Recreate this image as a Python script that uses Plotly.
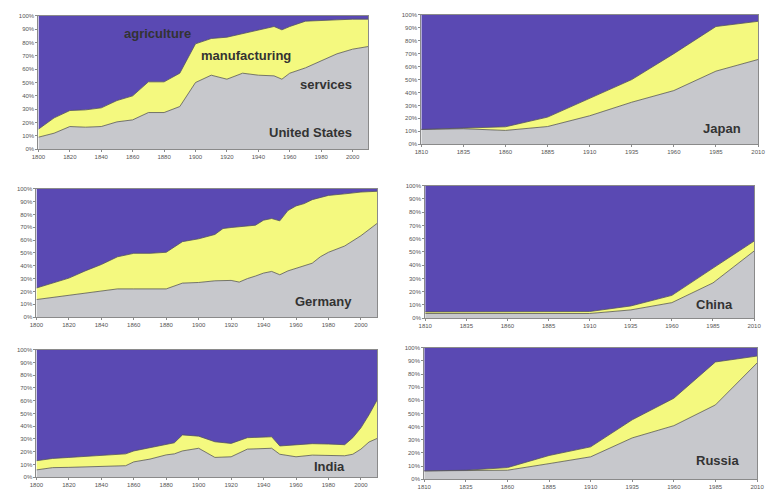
import plotly.graph_objects as go

# ---------------- data (percent of labour force) ----------------
us_years = [1800, 1810, 1820, 1830, 1840, 1850, 1860, 1870, 1880, 1890, 1900, 1910, 1920,
            1930, 1940, 1950, 1955, 1960, 1970, 1980, 1990, 2000, 2010]
us_services = [9, 12, 17, 16.5, 17, 20.5, 22, 27.5, 27.5, 32, 50, 55.5, 52.5,
               57, 55.5, 55, 52.5, 57, 61, 66.5, 71.5, 75, 77]
us_manufacturing = [6, 11.5, 12, 13, 14, 16, 18, 23, 23, 25, 29, 27.5, 31.5,
                    29.5, 33.5, 37, 37, 35, 35, 29.8, 25.5, 22.5, 20.5]

jp_years = [1810, 1835, 1860, 1885, 1910, 1935, 1960, 1985, 2010]
jp_services = [11.5, 12, 10.7, 13.7, 22, 32.5, 41.5, 56.5, 65.5]
jp_manufacturing = [0, 0.5, 2.8, 7.3, 13.6, 17.5, 28.5, 34.5, 29.5]

de_years = [1800, 1810, 1820, 1830, 1840, 1850, 1860, 1870, 1880, 1890, 1900, 1910, 1915,
            1920, 1925, 1930, 1935, 1940, 1945, 1950, 1955, 1960, 1965, 1970, 1975,
            1980, 1990, 2000, 2010]
de_services = [13.7, 15.3, 17, 18.5, 20, 22, 22, 22, 22, 26.5, 27, 28.3, 28.5,
               28.6, 27.3, 30, 32, 34.3, 35.6, 33, 36, 38, 39.4, 42, 47,
               50.5, 55.4, 63.4, 73]
de_manufacturing = [9, 11.2, 13.4, 17.5, 21, 25, 27.7, 27.7, 28.5, 32.3, 34, 36.1, 40.5,
                    41.2, 43, 41, 39.6, 41.2, 41.2, 42, 47, 48.6, 49, 49.5, 46,
                    44.3, 40.6, 34, 25]

cn_years = [1810, 1835, 1860, 1885, 1910, 1935, 1960, 1985, 2010]
cn_services = [3.5, 3.5, 3.5, 3.5, 3.5, 6.2, 11.7, 26.6, 50.7]
cn_manufacturing = [1.2, 1.2, 1.2, 1.2, 1.5, 3, 5.5, 11.2, 7.5]

in_years = [1800, 1810, 1820, 1830, 1840, 1850, 1855, 1860, 1870, 1880, 1885, 1890, 1900,
            1910, 1920, 1930, 1945, 1950, 1960, 1970, 1980, 1990, 1995, 2000, 2005, 2010]
in_services = [5.7, 7.5, 7.7, 8.2, 8.5, 9, 9, 12, 14.2, 17.5, 18.3, 20.6, 22.7,
               15.5, 16, 22, 22.7, 18, 16, 17.3, 17.3, 16.8, 18, 22, 27.6, 30.4]
in_manufacturing = [7.2, 7.2, 7.8, 8, 8.3, 8.8, 9.3, 8.6, 9, 8.3, 8.7, 12.6, 9.5,
                    12.3, 10.5, 9, 9, 6.5, 9.3, 9, 8.7, 8.7, 13, 16.7, 21.4, 30.2]

ru_years = [1810, 1835, 1860, 1885, 1910, 1935, 1960, 1985, 2010]
ru_services = [6.3, 6.3, 6.8, 11.8, 17, 31.4, 40.7, 56.5, 88.4]
ru_manufacturing = [0, 0.5, 2, 6.2, 7.6, 13.8, 20.9, 32.7, 5.3]

ticks_a = [1800, 1820, 1840, 1860, 1880, 1900, 1920, 1940, 1960, 1980, 2000]
ticks_b = [1810, 1835, 1860, 1885, 1910, 1935, 1960, 1985, 2010]
y_ticks = [0, 10, 20, 30, 40, 50, 60, 70, 80, 90, 100]

# ---------------- styling ----------------
W, H = 767, 495
C_SERV = "#c7c8cc"
C_MANU = "#f4f97f"
C_AGRI = "#5a49b3"
EDGE = "#555555"

panels = [
    # name, years, services, manufacturing, ticks, x range, px box (l, r, t, b), label pos
    ("United States", us_years, us_services, us_manufacturing, ticks_a, [1800, 2010], (32, 368, 13, 148), (309, 131)),
    ("Japan", jp_years, jp_services, jp_manufacturing, ticks_b, [1810, 2010], (422, 765, 12, 143), (728, 127)),
    ("Germany", de_years, de_services, de_manufacturing, ticks_a, [1800, 2010], (30, 377, 188, 318), (322, 302)),
    ("China", cn_years, cn_services, cn_manufacturing, ticks_b, [1810, 2010], (426, 761, 185, 319), (721, 305)),
    ("India", in_years, in_services, in_manufacturing, ticks_a, [1800, 2010], (30, 377, 351, 480), (329, 469)),
    ("Russia", ru_years, ru_services, ru_manufacturing, ticks_b, [1810, 2010], (425, 764, 349, 482), (724, 463)),
]

fig = go.Figure()
layout = {}
annotations = []

for i, (name, yrs, serv, manu, xt, xr, box, lab) in enumerate(panels):
    n = i + 1
    xa = "x" if n == 1 else f"x{n}"
    ya = "y" if n == 1 else f"y{n}"
    agri = [max(0.0, 100 - s - m) for s, m in zip(serv, manu)]
    sg = f"g{n}"
    for vals, col, nm in [(serv, C_SERV, "services"), (manu, C_MANU, "manufacturing"), (agri, C_AGRI, "agriculture")]:
        fig.add_trace(go.Scatter(
            x=yrs, y=vals, xaxis=xa, yaxis=ya, stackgroup=sg, name=nm,
            mode="lines", line=dict(color=EDGE if nm != "agriculture" else C_AGRI, width=0.8),
            fillcolor=col, showlegend=False, hoverinfo="skip",
        ))
    l, r, t, b = box
    xkey = "xaxis" if n == 1 else f"xaxis{n}"
    ykey = "yaxis" if n == 1 else f"yaxis{n}"
    layout[xkey] = dict(
        domain=[l / W, r / W], anchor=ya, range=xr, tickvals=xt,
        showgrid=False, zeroline=False, showline=True, linecolor="#8a8a8a", linewidth=1,
        mirror=True, ticks="outside", ticklen=2, tickcolor="#8a8a8a",
        ticklabeloverflow="allow",
        tickfont=dict(size=6, color="#555555", family="Liberation Sans"),
    )
    layout[ykey] = dict(
        domain=[1 - b / H, 1 - t / H], anchor=xa, range=[0, 100], tickvals=y_ticks,
        ticktext=[f"{v}%" for v in y_ticks],
        showgrid=False, zeroline=False, showline=True, linecolor="#8a8a8a", linewidth=1,
        mirror=True, ticks="outside", ticklen=2, tickcolor="#8a8a8a",
        tickfont=dict(size=6, color="#555555", family="Liberation Sans"),
    )
    annotations.append(dict(
        text=f"<b>{name}</b>", x=lab[0] / W, y=1 - lab[1] / H, xref="paper", yref="paper",
        showarrow=False, xanchor="center", yanchor="middle",
        font=dict(size=13, color="#333333", family="Liberation Sans"),
    ))

for txt, px, py in [("agriculture", 153, 31), ("manufacturing", 243, 53), ("services", 325, 83)]:
    annotations.append(dict(
        text=f"<b>{txt}</b>", x=px / W, y=1 - py / H, xref="paper", yref="paper",
        showarrow=False, xanchor="center", yanchor="middle",
        font=dict(size=13, color="#333333", family="Liberation Sans"),
    ))

fig.update_layout(
    width=W, height=H, margin=dict(l=0, r=0, t=0, b=0),
    paper_bgcolor="white", plot_bgcolor="white", hovermode=False,
    annotations=annotations, **layout,
)

fig.write_html(
    "out.html",
    config={"displayModeBar": False, "staticPlot": True},
    post_script="document.body.style.margin='0';document.body.style.overflow='hidden';",
)
